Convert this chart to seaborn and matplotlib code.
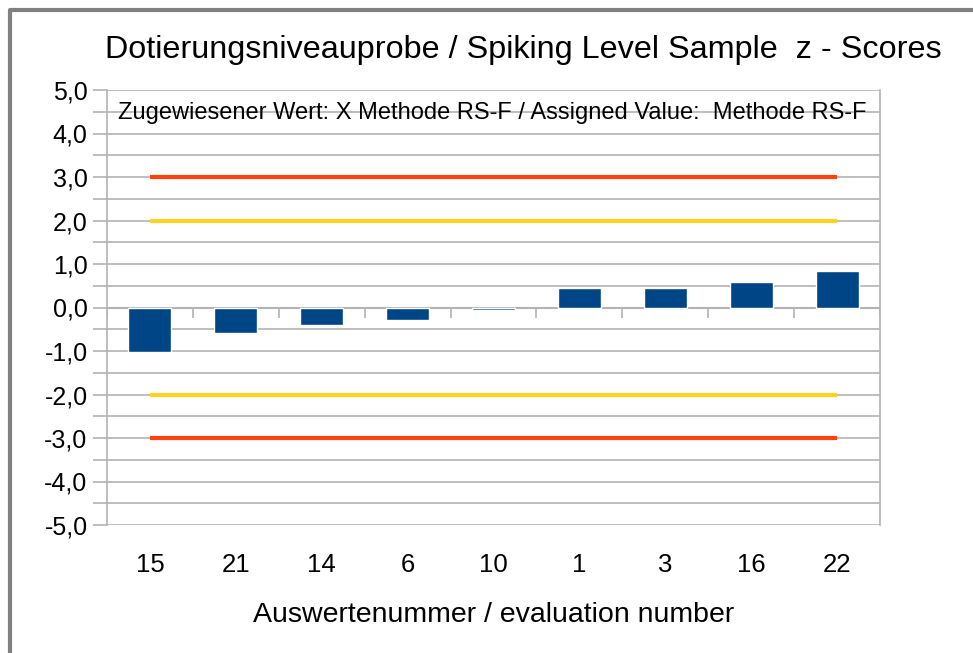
import numpy as np
import matplotlib
matplotlib.use('Agg')
import matplotlib.pyplot as plt
import seaborn as sns
from matplotlib.lines import Line2D
from matplotlib.ticker import MultipleLocator, FuncFormatter

# data
labels = ['15', '21', '14', '6', '10', '1', '3', '16', '22']
z_scores = [-1.03, -0.58, -0.40, -0.29, -0.06, 0.45, 0.45, 0.59, 0.84]
warn_limits = [2.0, -2.0]
action_limits = [3.0, -3.0]

sns.set_theme(style='white')
plt.rcParams['font.family'] = ['Liberation Sans', 'DejaVu Sans']
plt.rcParams['text.color'] = 'black'
plt.rcParams['axes.labelcolor'] = 'black'

grid_c = '#b3b3b3'

fig = plt.figure(figsize=(9.73, 6.53), dpi=100)
ax = fig.add_axes([107/973, 1 - 525/653, (880-107)/973, (525-90)/653])

sns.barplot(x=labels, y=z_scores, order=labels, color='#004586', width=0.5,
            saturation=1, ax=ax, zorder=3)

n = len(labels)
ax.hlines(action_limits, 0, n - 1, color='#ff420e', lw=3, zorder=4)
ax.hlines(warn_limits, 0, n - 1, color='#ffd320', lw=3, zorder=4)

ax.set_xlim(-0.5, n - 0.5)
ax.set_ylim(-5, 5)
ax.yaxis.set_major_locator(MultipleLocator(1))
ax.yaxis.set_minor_locator(MultipleLocator(0.5))
ax.yaxis.set_major_formatter(FuncFormatter(lambda v, p: f'{v:.1f}'.replace('.', ',')))
ax.grid(True, axis='y', which='both', color=grid_c, lw=1.2, zorder=0)
ax.set_axisbelow(True)

# zero axis line with category boundary ticks
ax.axhline(0, color=grid_c, lw=1.5, zorder=2)
bounds = np.arange(n + 1) - 0.5
ax.vlines(bounds, -0.25, 0, color=grid_c, lw=1.2, zorder=2)

ax.set_xticks(np.arange(n))
ax.set_xticklabels(labels)
ax.set_xticks(bounds, minor=True)
ax.tick_params(axis='x', which='major', length=0, pad=20, labelsize=18.5, colors='black')
ax.tick_params(axis='x', which='minor', length=11, width=1.2, color=grid_c)
ax.tick_params(axis='y', which='both', length=10, width=1.2, color=grid_c,
               labelsize=18, labelcolor='black', left=True)
ax.tick_params(axis='y', which='major', pad=4)

for side in ['left', 'right']:
    ax.spines[side].set_color(grid_c)
    ax.spines[side].set_linewidth(1.2)
for side in ['top', 'bottom']:
    ax.spines[side].set_visible(False)

ax.set_xlabel('Auswertenummer / evaluation number', fontsize=20.5, labelpad=18)
ax.set_ylabel('')

fig.text(523/973, 1 - 50/653, 'Dotierungsniveauprobe / Spiking Level Sample  z - Scores',
         ha='center', va='center', fontsize=23.3)
ax.text(118/973, 1 - 113/653, 'Zugewiesener Wert: X Methode RS-F / Assigned Value:  Methode RS-F',
        transform=fig.transFigure, ha='left', va='center', fontsize=17)

# grey frame of the chart object
fig.add_artist(Line2D([9.5/973, 9.5/973, 1.01], [-0.01, 1 - 9.5/653, 1 - 9.5/653],
                      transform=fig.transFigure, color='#808080', lw=3))

fig.savefig('out.png', dpi=100)
